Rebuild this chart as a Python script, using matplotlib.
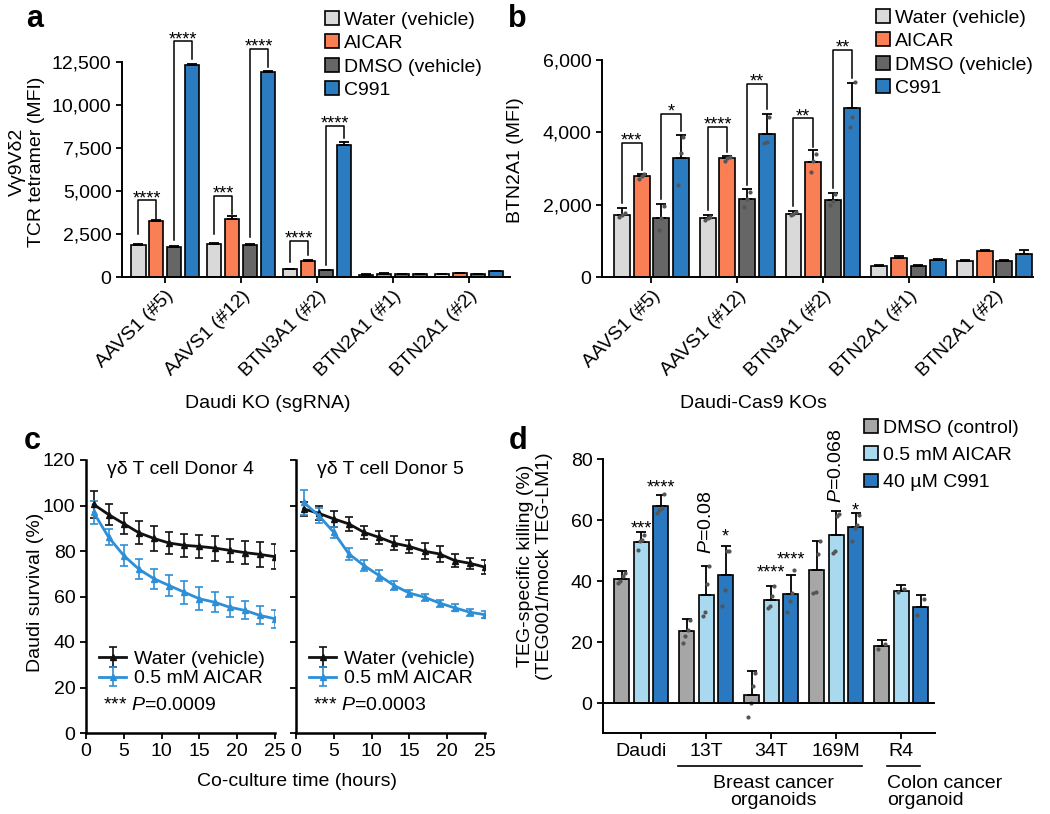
import matplotlib
matplotlib.use("Agg")
import matplotlib.pyplot as plt
import numpy as np
from matplotlib.patches import Patch

# ---- panel a: tetramer staining (MFI) ----
a_groups = ["AAVS1 (#5)", "AAVS1 (#12)", "BTN3A1 (#2)", "BTN2A1 (#1)", "BTN2A1 (#2)"]
a_water = [1880, 1900, 450, 140, 150]
a_aicar = [3230, 3400, 950, 200, 230]
a_dmso = [1750, 1840, 380, 150, 160]
a_c991 = [12300, 11900, 7700, 160, 340]
a_water_err = [60, 60, 40, 20, 20]
a_aicar_err = [70, 130, 60, 25, 25]
a_dmso_err = [50, 60, 40, 20, 20]
a_c991_err = [100, 90, 120, 20, 30]
# (group, bar1, bar2, bracket top, leg1 bottom, leg2 bottom, stars)
a_sig = [(0, 0, 1, 4450, 2500, 3400, "****"), (0, 2, 3, 13700, 2150, 12650, "****"),
         (1, 0, 1, 4700, 2500, 3650, "***"), (1, 2, 3, 13250, 2300, 12200, "****"),
         (2, 0, 1, 2100, 900, 1300, "****"), (2, 2, 3, 8800, 700, 8100, "****")]

# ---- panel b: BTN2A1 staining (MFI) ----
b_groups = a_groups
b_water = [1710, 1620, 1750, 300, 440]
b_aicar = [2790, 3280, 3170, 530, 720]
b_dmso = [1620, 2150, 2120, 305, 445]
b_c991 = [3280, 3950, 4660, 460, 630]
b_water_err = [190, 90, 80, 30, 30]
b_aicar_err = [70, 60, 340, 40, 40]
b_dmso_err = [410, 280, 210, 30, 30]
b_c991_err = [650, 560, 710, 30, 120]
b_water_pts = [[1650, 1720, 1760], [1580, 1620, 1650], [1720, 1750, 1790], [300], [440]]
b_aicar_pts = [[2700, 2800, 2860], [3220, 3290, 3320], [2910, 3200, 3400], [530], [720]]
b_dmso_pts = [[1290, 1620, 1950], [1940, 2150, 2360], [1985, 2100, 2290], [305], [445]]
b_c991_pts = [[2540, 3420, 3880], [3700, 3740, 4420], [4150, 4430, 5400], [460], [630]]
b_sig = [(0, 0, 1, 3710, 2050, 2950, "***"), (0, 2, 3, 4520, 2150, 4050, "*"),
         (1, 0, 1, 4150, 1850, 3450, "****"), (1, 2, 3, 5350, 2550, 4650, "**"),
         (2, 0, 1, 4390, 1950, 3600, "**"), (2, 2, 3, 6280, 2450, 5500, "**")]

# ---- panel c: Daudi survival over time ----
c_time = [1, 3, 5, 7, 9, 11, 13, 15, 17, 19, 21, 23, 25]
c4_water = [100.5, 96, 92, 88, 85.5, 83.5, 82.5, 82, 81.3, 80.3, 79.3, 78.5, 77.5]
c4_water_err = [6, 4.5, 4.5, 5, 5.5, 5, 5, 5, 5.5, 5, 5, 5.5, 5.5]
c4_aicar = [97, 86, 78, 72, 67.8, 64.8, 61.9, 59, 57.5, 55.3, 53.9, 51.7, 50.2]
c4_aicar_err = [5, 3.5, 4.5, 4.5, 4.5, 4.5, 5, 5, 4.5, 4.5, 4, 4, 4]
c5_water = [98.5, 96.6, 94.1, 91.9, 88.2, 86, 83.4, 82, 79.9, 78.7, 75.8, 74.6, 72.9]
c5_water_err = [3, 3, 3.5, 3, 3, 3, 3, 3, 3.5, 3.5, 3, 2.5, 3]
c5_aicar = [101.4, 95.6, 88.2, 78.7, 73.6, 69.2, 64.8, 61.5, 59.7, 57.1, 55, 53.1, 52]
c5_aicar_err = [5.5, 3.5, 2.5, 2.5, 2.5, 2.5, 2, 1.5, 1.5, 1.5, 1.5, 1.5, 1.5]

# ---- panel d: TEG-specific killing ----
d_groups = ["Daudi", "13T", "34T", "169M", "R4"]
d_dmso = [40.7, 23.7, 2.7, 43.7, 18.6]
d_aicar = [52.8, 35.5, 33.9, 55.0, 36.8]
d_c991 = [64.5, 42.0, 35.7, 57.7, 31.5]
d_dmso_err = [2.5, 3.8, 7.7, 9.3, 2.2]
d_aicar_err = [3.2, 9.3, 4.4, 7.8, 2.0]
d_c991_err = [3.8, 9.4, 6.2, 4.6, 4.0]
d_dmso_pts = [[39.5, 40, 41.5, 42.5], [19.7, 22, 24, 27.3], [-4.4, 0, 5.5, 9.8], [36, 36.5, 49, 53], [17.8, 19.4]]
d_aicar_pts = [[50.3, 53, 53.5, 55], [28.4, 30, 39, 44.8], [31.1, 31.7, 35, 38.3], [49.2, 50, 61.2, 62], [36.3, 37.5]]
d_c991_pts = [[62.3, 63.4, 64, 68.5], [31.7, 37.2, 49.7, 50], [30, 33.3, 36, 43.7], [53, 57.5, 58.5, 61.7], [28.8, 34.2]]
# (group, bar, y centre, text)
d_stars = [(0, 1, 59, "***"), (0, 2, 72.5, "****"), (1, 2, 56.5, "*"),
           (2, 1, 44.5, "****"), (2, 2, 49, "****"), (3, 2, 65, "*")]
d_pvals = [(1, 1, 49, "$P$=0.08"), (3, 1, 65.5, "$P$=0.068")]

W, H = 1050, 814
plt.rcParams["font.family"] = ["Liberation Sans", "DejaVu Sans"]
plt.rcParams["font.size"] = 14
plt.rcParams["mathtext.fontset"] = "custom"
plt.rcParams["mathtext.rm"] = "Liberation Sans"
plt.rcParams["mathtext.it"] = "Liberation Sans:italic"
plt.rcParams["axes.linewidth"] = 1.4
plt.rcParams["xtick.major.width"] = 1.3
plt.rcParams["ytick.major.width"] = 1.3
plt.rcParams["xtick.major.size"] = 4
plt.rcParams["ytick.major.size"] = 4

fig = plt.figure(figsize=(W / 100, H / 100), dpi=100)


def box(l, t, r, b):
    return [l / W, 1 - b / H, (r - l) / W, (b - t) / H]


def ftext(x, y, s, **kw):
    fig.text(x / W, 1 - y / H, s, **kw)


def clean(ax):
    ax.spines["top"].set_visible(False)
    ax.spines["right"].set_visible(False)


def bar_panel(ax, series, errs, pts, colors, step, width, sig):
    x = np.arange(len(a_groups))
    offs = (np.arange(4) - 1.5) * step
    for k in range(4):
        ax.bar(x + offs[k], series[k], width, color=colors[k], edgecolor="black", lw=1.2, zorder=2)
        ax.errorbar(x + offs[k], series[k], yerr=[np.zeros(len(x)), errs[k]], fmt="none",
                    ecolor="black", elinewidth=1.3, capsize=3.5, capthick=1.3, zorder=3)
        if pts is not None:
            for g in range(len(x)):
                p = pts[k][g]
                if len(p) > 1:
                    ax.scatter(x[g] + offs[k] + np.linspace(-0.03, 0.03, len(p)), p, s=9,
                               color="#555555", zorder=4, lw=0)
    for g, i1, i2, top, yb1, yb2, stars in sig:
        x1, x2 = g + offs[i1], g + offs[i2]
        ax.plot([x1, x1, x2, x2], [yb1, top, top, yb2], color="black", lw=1.1, clip_on=False, zorder=5)
        ax.annotate(stars, ((x1 + x2) / 2, top), xytext=(0, -2), textcoords="offset points",
                    ha="center", va="baseline", fontsize=13, annotation_clip=False)
    ax.set_xticks(x)
    ax.set_xticklabels(a_groups, rotation=45, ha="right", rotation_mode="anchor")
    clean(ax)


colors_ab = ["#d9d9d9", "#fb7f55", "#666666", "#2b7bc1"]
labels_ab = ["Water (vehicle)", "AICAR", "DMSO (vehicle)", "C991"]

# panel a
axa = fig.add_axes(box(122, 62, 510, 277))
bar_panel(axa, [a_water, a_aicar, a_dmso, a_c991], [a_water_err, a_aicar_err, a_dmso_err, a_c991_err],
          None, colors_ab, 0.237, 0.19, a_sig)
axa.set_xlim(-0.57, 4.54)
axa.set_ylim(0, 12500)
axa.set_yticks([0, 2500, 5000, 7500, 10000, 12500])
axa.set_yticklabels(["0", "2,500", "5,000", "7,500", "10,000", "12,500"])

# panel b
axb = fig.add_axes(box(602, 60, 1033, 277))
bar_panel(axb, [b_water, b_aicar, b_dmso, b_c991], [b_water_err, b_aicar_err, b_dmso_err, b_c991_err],
          [b_water_pts, b_aicar_pts, b_dmso_pts, b_c991_pts], colors_ab, 0.229, 0.185, b_sig)
axb.set_xlim(-0.576, 4.45)
axb.set_ylim(0, 6000)
axb.set_yticks([0, 2000, 4000, 6000])
axb.set_yticklabels(["0", "2,000", "4,000", "6,000"])

handles_ab = [Patch(facecolor=c, edgecolor="black", lw=1.2) for c in colors_ab]
for ax, xl, yt in [(axa, 325, 11), (axb, 876, 9)]:
    ax.legend(handles_ab, labels_ab, loc="upper left", bbox_to_anchor=(xl / W, 1 - yt / H),
              bbox_transform=fig.transFigure, frameon=False, handlelength=0.7, handleheight=0.7,
              handletextpad=0.3, labelspacing=0.3, borderpad=0, borderaxespad=0)

# panel c
blue_c = "#2e8fd6"
axc1 = fig.add_axes(box(86, 460, 275, 733))
axc2 = fig.add_axes(box(296, 460, 485, 733))
for ax, water, werr, aicar, aerr, title, ptxt in [
        (axc1, c4_water, c4_water_err, c4_aicar, c4_aicar_err, "γδ T cell Donor 4", "$P$=0.0009"),
        (axc2, c5_water, c5_water_err, c5_aicar, c5_aicar_err, "γδ T cell Donor 5", "$P$=0.0003")]:
    ax.errorbar(c_time, water, yerr=werr, fmt="-^", color="#111111", lw=2, ms=4,
                elinewidth=1.2, capsize=3, capthick=1.2, label="Water (vehicle)")
    ax.errorbar(c_time, aicar, yerr=aerr, fmt="-^", color=blue_c, lw=2, ms=4,
                elinewidth=1.2, capsize=3, capthick=1.2, label="0.5 mM AICAR")
    ax.set_xlim(0, 25)
    ax.set_ylim(0, 120)
    ax.set_xticks([0, 5, 10, 15, 20, 25])
    ax.set_yticks([0, 20, 40, 60, 80, 100, 120])
    ax.spines["left"].set_linewidth(1.8)
    ax.spines["bottom"].set_linewidth(1.8)
    clean(ax)
    ax.text(0.5, 0.967, title, transform=ax.transAxes, ha="center", va="center")
    ax.legend(loc="center left", bbox_to_anchor=(0.07, 0.235), frameon=False, handlelength=1.4,
              handletextpad=0.4, labelspacing=0.1, borderpad=0, borderaxespad=0)
    ax.text(0.09, 0.10, "*** " + ptxt, transform=ax.transAxes, ha="left", va="center")
axc2.set_yticklabels([])

# panel d
axd = fig.add_axes(box(603, 459, 935, 733))
colors_d = ["#a6a6a6", "#a9d9ee", "#2a78c0"]
labels_d = ["DMSO (control)", "0.5 mM AICAR", "40 µM C991"]
xd = np.arange(len(d_groups))
offd = (np.arange(3) - 1) * 0.3
for k, (vals, err, pts) in enumerate([(d_dmso, d_dmso_err, d_dmso_pts), (d_aicar, d_aicar_err, d_aicar_pts),
                                      (d_c991, d_c991_err, d_c991_pts)]):
    axd.bar(xd + offd[k], vals, 0.23, color=colors_d[k], edgecolor="black", lw=1.2, zorder=2, label=labels_d[k])
    axd.errorbar(xd + offd[k], vals, yerr=[np.zeros(len(xd)), err], fmt="none", ecolor="black",
                 elinewidth=1.3, capsize=3.5, capthick=1.3, zorder=3)
    for g in range(len(xd)):
        p = pts[g]
        axd.scatter(xd[g] + offd[k] + np.linspace(-0.05, 0.05, len(p)), p, s=9, color="#555555", zorder=4, lw=0)
for g, k, yc, s in d_stars:
    axd.annotate(s, (xd[g] + offd[k], yc), xytext=(0, -7.5), textcoords="offset points",
                 ha="center", va="baseline", fontsize=13, annotation_clip=False)
for g, k, yb, s in d_pvals:
    axd.text(xd[g] + offd[k], yb, s, rotation=90, ha="center", va="bottom", clip_on=False)
axd.axhline(0, color="black", lw=1.4, zorder=5)
axd.set_xlim(-0.585, 4.52)
axd.set_ylim(-9.8, 80)
axd.set_yticks([0, 20, 40, 60, 80])
axd.set_xticks(xd)
axd.set_xticklabels(d_groups)
clean(axd)
axd.legend(loc="upper left", bbox_to_anchor=(864 / W, 1 - 419 / H), bbox_transform=fig.transFigure,
           frameon=False, handlelength=0.7, handleheight=0.7, handletextpad=0.3, labelspacing=0.5,
           borderpad=0, borderaxespad=0)
# group brackets under the x axis
tr = axd.get_xaxis_transform()
axd.plot([0.57, 3.4], [-0.12, -0.12], color="black", lw=1.2, transform=tr, clip_on=False)
axd.plot([3.78, 4.29], [-0.12, -0.12], color="black", lw=1.2, transform=tr, clip_on=False)
axd.text(2.03, -0.155, "Breast cancer\norganoids", transform=tr, ha="center", va="top", linespacing=0.95)
axd.text(3.78, -0.155, "Colon cancer\norganoid", transform=tr, ha="left", va="top", linespacing=0.95)

# axis titles and panel letters
ftext(27, 162, "Vγ9Vδ2\nTCR tetramer (MFI)", rotation=90, ha="center", va="center", linespacing=1.1)
ftext(516, 160, "BTN2A1 (MFI)", rotation=90, ha="center", va="center")
ftext(268, 403, "Daudi KO (sgRNA)", ha="center", va="center")
ftext(753, 403, "Daudi-Cas9 KOs", ha="center", va="center")
ftext(36, 592, "Daudi survival (%)", rotation=90, ha="center", va="center")
ftext(297, 782, "Co-culture time (hours)", ha="center", va="center")
ftext(535, 566, "TEG-specific killing (%)\n(TEG001/mock TEG-LM1)", rotation=90, ha="center", va="center",
      linespacing=1.1)
for x, y, s in [(35, 27, "a"), (517, 27, "b"), (32, 449, "c"), (518, 449, "d")]:
    ftext(x, y, s, fontsize=22, fontweight="bold", ha="center", va="baseline")

plt.savefig("out.png", dpi=100)
